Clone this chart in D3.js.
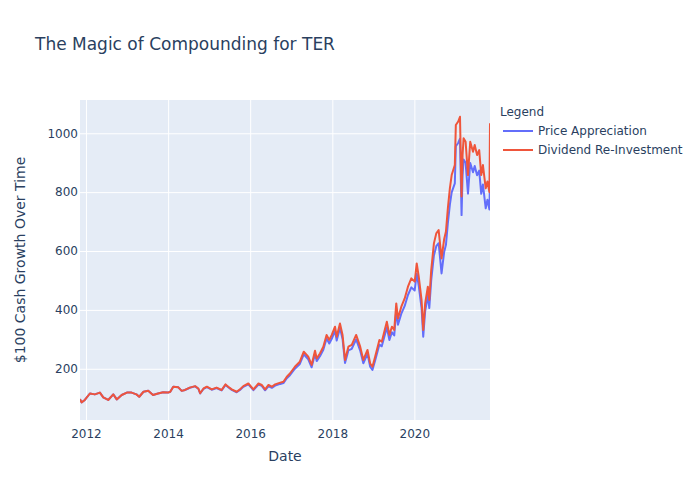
<!DOCTYPE html>
<html>
<head>
<meta charset="utf-8">
<script src="https://cdn.jsdelivr.net/npm/d3@7"></script>
<style>
  html, body { margin: 0; padding: 0; background: #fff; }
  svg { display: block; font-family: "DejaVu Sans", verdana, arial, sans-serif; }
</style>
</head>
<body>
<svg id="chart" width="700" height="500"></svg>
<script>
const chartTitle = "The Magic of Compounding for TER";
const xAxisTitle = "Date";
const yAxisTitle = "$100 Cash Growth Over Time";
const legendTitle = "Legend";
const seriesNames = ["Price Appreciation", "Dividend Re-Investment"];
const seriesColors = ["#636efa", "#EF553B"];

const dates = [
"2011-11-09","2011-11-23","2011-12-22","2012-02-05","2012-03-20","2012-05-04","2012-06-03","2012-07-17","2012-08-31","2012-10-01",
"2012-11-14","2012-12-30","2013-02-10","2013-03-25","2013-04-19","2013-05-27","2013-07-08","2013-08-20","2013-10-03","2013-11-18",
"2014-01-01","2014-01-20","2014-02-16","2014-04-02","2014-05-02","2014-05-31","2014-07-13","2014-08-29","2014-09-27","2014-10-13",
"2014-11-12","2014-12-12","2015-01-24","2015-03-08","2015-04-22","2015-05-27","2015-06-20","2015-07-21","2015-09-03","2015-10-02",
"2015-11-01","2015-12-16","2016-01-30","2016-03-15","2016-04-13","2016-05-13","2016-06-12","2016-07-12","2016-08-10","2016-09-25",
"2016-10-23","2016-11-22","2016-12-20","2017-02-02","2017-03-18","2017-04-22","2017-06-01","2017-07-01","2017-07-31","2017-08-15",
"2017-09-13","2017-10-13","2017-11-11","2017-12-05","2017-12-27","2018-01-25","2018-02-09","2018-03-10","2018-04-02","2018-04-24",
"2018-05-24","2018-06-23","2018-08-01","2018-09-06","2018-10-04","2018-11-10","2018-12-04","2018-12-24","2019-01-17","2019-02-24",
"2019-03-17","2019-05-01","2019-05-24","2019-06-15","2019-07-06","2019-07-24","2019-08-08","2019-09-07","2019-10-07","2019-11-05",
"2019-12-05","2020-01-04","2020-01-22","2020-02-09","2020-03-05","2020-03-20","2020-04-06","2020-04-30","2020-05-13","2020-05-30",
"2020-06-23","2020-07-14","2020-08-04","2020-08-30","2020-09-22","2020-10-08","2020-10-25","2020-11-12","2020-11-28","2020-12-12",
"2020-12-26","2021-01-04","2021-01-25","2021-02-10","2021-02-24","2021-03-05","2021-03-14","2021-04-01","2021-04-22","2021-05-12",
"2021-06-06","2021-06-21","2021-07-12","2021-07-31","2021-08-18","2021-09-02","2021-09-27","2021-10-12","2021-10-30","2021-11-04"
];

const priceAppreciation = [
97,86,94,116,113,119,103,94,113,96,
111,119,119,113,105,122,125,111,116,120,
119,122,139,137,125,128,135.5,140.3,132.2,116.2,
132,137.9,128.9,134.7,126.6,145.2,137.2,128.2,120.2,128,
138.7,147.1,127.3,146.7,141.7,126.9,141.3,135.3,142.9,148.6,
151.4,167.8,178.3,200.3,216.5,249,232.3,205.2,251.3,226.2,
242.4,264.4,302.6,285.8,302,328.6,296,338.9,301.3,219.9,
262.5,267.9,300.1,261.8,218.8,251,206.8,196.2,228.3,282.1,
276.3,340.3,297.6,324,313.4,398,349.8,387.3,413.4,450.7,
476.5,466,524,481.5,407.2,309,395.5,448.7,406.3,500.7,
585,616.5,626.5,524,597,621,694.5,757.5,799,814.5,
830,956,967,981.5,722,858,911,899.5,795,899,
867.6,889,857.4,873,794.4,826,745,774,741,853
];

const dividendReinvestment = [
97,86,94,116,113,119,103,94,113,96,
111,119,119,113,105,122,125,111,116,120,
119,122,139,137,125,128,136,141,133,117,
133,139,130,136,128,147,139,130,122,130,
141,150,130,150,145,130,145,139,147,153,
156,173,184,207,224,258,241,213,261,235,
252,275,315,298,315,343,309,354,315,230,
275,281,315,275,230,264,218,207,241,298,
292,360,315,343,332,422,371,411,439,479,
507,496,558,513,434,332,422,479,434,535,
626,660,671,575,640,666,745,813,858,875,
892,1028,1040,1056,785,926,983,971,858,971,
937,960,926,943,858,892,813,836,800,1034
];

const xTickYears = [2012, 2014, 2016, 2018, 2020];
const yTickValues = [200, 400, 600, 800, 1000];
const xDomain = ["2011-11-09", "2021-11-04"];
const yDomain = [26, 1113];

const FONT = '"DejaVu Sans", verdana, arial, sans-serif';
const parse = d3.timeParse("%Y-%m-%d");
const svg = d3.select("#chart");
const W = 700, H = 500;
const m = { left: 80, right: 210, top: 100, bottom: 80 };
const pw = W - m.left - m.right, ph = H - m.top - m.bottom;
const textColor = "#2a3f5f";

const x = d3.scaleTime().domain(xDomain.map(parse)).range([m.left, m.left + pw]);
const y = d3.scaleLinear().domain(yDomain).range([m.top + ph, m.top]);

// plot background
svg.append("rect").attr("x", m.left).attr("y", m.top).attr("width", pw).attr("height", ph).attr("fill", "#E5ECF6");

// gridlines via axes
const gx = svg.append("g").attr("transform", `translate(0,${m.top + ph})`)
  .call(d3.axisBottom(x).tickValues(xTickYears.map(yr => new Date(yr, 0, 1))).tickSize(-ph).tickFormat(d3.timeFormat("%Y")));
gx.select(".domain").remove();
gx.selectAll(".tick line").attr("stroke", "#fff").attr("stroke-width", 1);
gx.selectAll(".tick text").attr("fill", textColor).attr("font-size", 12).attr("dy", null).attr("y", 18)
  .attr("font-family", FONT);

const gy = svg.append("g").attr("transform", `translate(${m.left},0)`)
  .call(d3.axisLeft(y).tickValues(yTickValues).tickSize(-pw).tickFormat(d3.format("d")));
gy.select(".domain").remove();
gy.selectAll(".tick line").attr("stroke", "#fff").attr("stroke-width", 1);
gy.selectAll(".tick text").attr("fill", textColor).attr("font-size", 12).attr("x", -2)
  .attr("font-family", FONT);

// clip
svg.append("clipPath").attr("id", "clip").append("rect")
  .attr("x", m.left).attr("y", m.top).attr("width", pw).attr("height", ph);

const parsedDates = dates.map(parse);
const series = [priceAppreciation, dividendReinvestment];
const line = d3.line().x(d => x(d[0])).y(d => y(d[1]));
series.forEach((vals, i) => {
  svg.append("path")
    .datum(parsedDates.map((d, j) => [d, vals[j]]))
    .attr("clip-path", "url(#clip)")
    .attr("fill", "none")
    .attr("stroke", seriesColors[i])
    .attr("stroke-width", 2)
    .attr("stroke-linejoin", "round")
    .attr("d", line);
});

// title
svg.append("text").attr("x", 35).attr("y", 50).attr("fill", textColor).attr("font-size", 17).text(chartTitle);

// axis titles
svg.append("text").attr("x", m.left + pw / 2).attr("y", 461).attr("text-anchor", "middle")
  .attr("fill", textColor).attr("font-size", 14).text(xAxisTitle);
svg.append("text").attr("transform", `translate(25,${m.top + ph / 2}) rotate(-90)`).attr("text-anchor", "middle")
  .attr("fill", textColor).attr("font-size", 14).text(yAxisTitle);

// legend
svg.append("text").attr("x", 500).attr("y", 116).attr("fill", textColor).attr("font-size", 12).text(legendTitle);
seriesNames.forEach((name, i) => {
  const cy = 131 + i * 19;
  svg.append("line").attr("x1", 503).attr("x2", 533).attr("y1", cy).attr("y2", cy)
    .attr("stroke", seriesColors[i]).attr("stroke-width", 2);
  svg.append("text").attr("x", 538).attr("y", cy + 4).attr("fill", textColor).attr("font-size", 12).text(name);
});
</script>
</body>
</html>
